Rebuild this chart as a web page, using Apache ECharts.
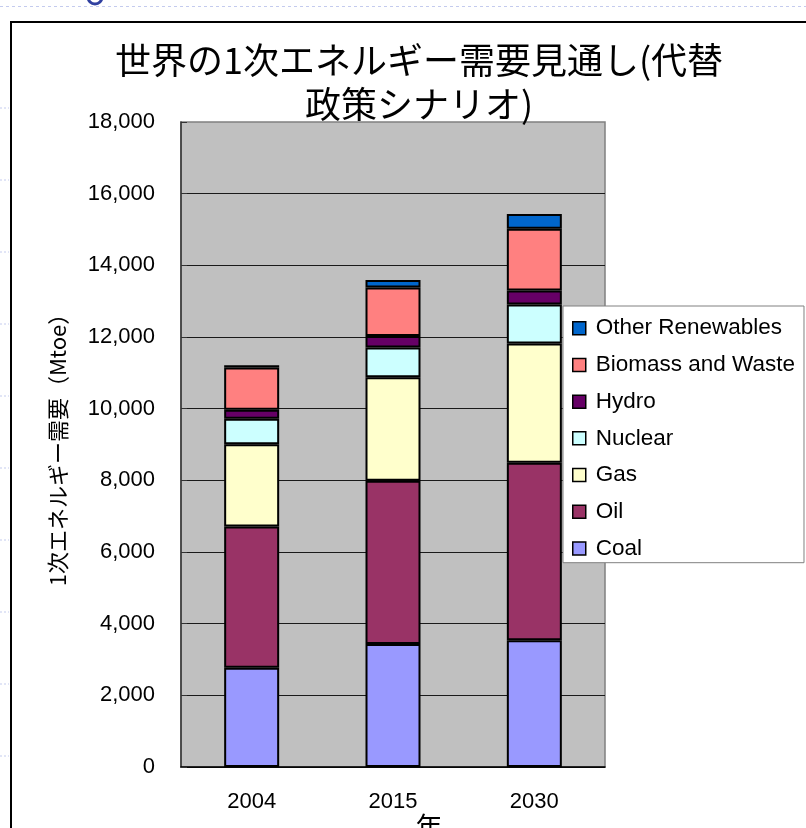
<!DOCTYPE html>
<html>
<head>
<meta charset="utf-8">
<script src="https://cdn.jsdelivr.net/npm/echarts@6/dist/echarts.min.js"></script>
<style>
  html, body { margin: 0; padding: 0; background: #ffffff; }
  #chart { width: 806px; height: 828px; }
</style>
</head>
<body>
<div id="chart"></div>
<script>
// World primary energy demand outlook (Mtoe), alternative policy scenario
const years = ['2004', '2015', '2030'];
const coal = [2770, 3430, 3540];
const oil = [3940, 4560, 4950];
const gas = [2300, 2890, 3330];
const nuclear = [710, 830, 1090];
const hydro = [250, 320, 390];
const biomass = [1180, 1350, 1720];
const otherRenewables = [60, 210, 410];

const seriesDefs = [
  { name: 'Coal', data: coal, color: '#9999FF' },
  { name: 'Oil', data: oil, color: '#993366' },
  { name: 'Gas', data: gas, color: '#FFFFCC' },
  { name: 'Nuclear', data: nuclear, color: '#CCFFFF' },
  { name: 'Hydro', data: hydro, color: '#660066' },
  { name: 'Biomass and Waste', data: biomass, color: '#FF8080' },
  { name: 'Other Renewables', data: otherRenewables, color: '#0066CC' }
];

const latin = "'Liberation Sans', Arial, 'Noto Sans CJK JP', sans-serif";
const cjk = "'Noto Sans CJK JP', 'Liberation Sans', sans-serif";

// slide decoration: dotted guide marks outside the chart frame
const deco = [];
for (let x = 0; x < 806; x += 6) {
  deco.push({ type: 'rect', shape: { x: x, y: 6, width: 3, height: 1 }, style: { fill: '#c4cbee' }, silent: true });
}
[108, 180, 252, 324, 396, 468, 540, 612, 684, 756].forEach(function (y) {
  deco.push({ type: 'line', shape: { x1: 0, y1: y, x2: 9, y2: y }, style: { stroke: '#c4cbee', lineWidth: 1, lineDash: [2, 2] }, silent: true });
});
deco.push({ type: 'arc', shape: { cx: 95, cy: -3, r: 7, startAngle: 0, endAngle: Math.PI }, style: { stroke: '#3040a0', lineWidth: 3, fill: null }, silent: true });
deco.push({ type: 'rect', shape: { x: 11, y: 22, width: 820, height: 830 }, style: { fill: null, stroke: '#000000', lineWidth: 2 }, silent: true, z: 100 });

const chart = echarts.init(document.getElementById('chart'), null, { renderer: 'canvas' });
chart.setOption({
  backgroundColor: '#ffffff',
  animation: false,
  title: {
    text: '世界の1次エネルギー需要見通し(代替\n政策シナリオ)',
    left: 414,
    top: 33,
    textAlign: 'center',
    textStyle: { fontFamily: cjk, fontSize: 36, fontWeight: 'normal', color: '#000000', lineHeight: 44 }
  },
  graphic: deco,
  legend: {
    orient: 'vertical',
    left: 563,
    top: 306,
    width: 242,
    padding: [11, 9, 3, 9],
    icon: 'rect',
    itemWidth: 13,
    itemHeight: 13,
    itemGap: 14.2,
    itemStyle: { borderColor: '#000000', borderWidth: 1.5 },
    backgroundColor: '#ffffff',
    borderColor: '#808080',
    borderWidth: 1,
    data: seriesDefs.map(function (s) { return s.name; }).reverse(),
    textStyle: { fontFamily: latin, fontSize: 22.5, color: '#000000', padding: [0, 0, 0, 5] }
  },
  grid: {
    left: 181, top: 122, right: 201, bottom: 61,
    outerBoundsMode: 'none',
    show: true, backgroundColor: '#C0C0C0', borderColor: '#808080', borderWidth: 1.5
  },
  xAxis: {
    type: 'category',
    data: years,
    name: '年',
    nameLocation: 'middle',
    nameGap: 46,
    nameMoveOverlap: false,
    nameTextStyle: { fontFamily: cjk, fontSize: 27, color: '#000000', padding: [0, 0, 0, 72] },
    axisLine: { lineStyle: { color: '#000000', width: 1.5 } },
    axisTick: { inside: true, length: 6, lineStyle: { color: '#000000' } },
    axisLabel: { fontFamily: latin, fontSize: 22, color: '#000000', margin: 24 }
  },
  yAxis: {
    type: 'value',
    min: 0,
    max: 18000,
    interval: 2000,
    name: '1次エネルギー需要（Mtoe）',
    nameLocation: 'middle',
    nameGap: 112,
    nameMoveOverlap: false,
    nameTextStyle: { fontFamily: cjk, fontSize: 22, color: '#000000' },
    axisLine: { show: true, lineStyle: { color: '#333333', width: 1.5 } },
    axisTick: { show: true, inside: true, length: 6, lineStyle: { color: '#333333' } },
    axisLabel: { fontFamily: latin, fontSize: 22, color: '#000000', margin: 26 },
    splitLine: { show: true, showMaxLine: false, lineStyle: { color: '#1a1a1a', width: 1 } }
  },
  series: seriesDefs.map(function (s) {
    return {
      name: s.name,
      type: 'bar',
      stack: 'total',
      barWidth: 55,
      data: s.data,
      itemStyle: { color: s.color, borderColor: '#000000', borderWidth: 2 }
    };
  })
});
</script>
</body>
</html>
